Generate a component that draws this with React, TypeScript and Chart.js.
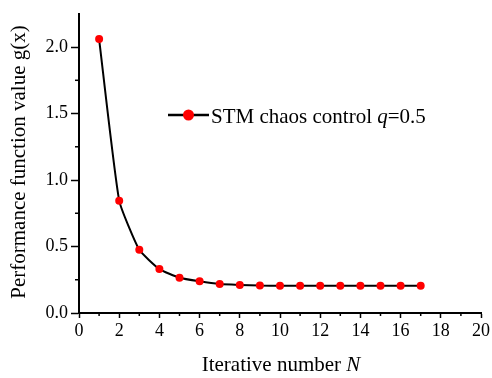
import React, { useEffect, useRef } from 'react';
import { Chart, registerables } from 'chart.js';

Chart.register(...registerables);

// ---- data ----
const iterations = [1, 2, 3, 4, 5, 6, 7, 8, 9, 10, 11, 12, 13, 14, 15, 16, 17];
const gValues = [2.06, 0.845, 0.475, 0.33, 0.265, 0.238, 0.218, 0.211, 0.206, 0.205, 0.205, 0.205, 0.205, 0.205, 0.205, 0.205, 0.205];
const yMajorTicks = [0, 0.5, 1.0, 1.5, 2.0];
const xMinorTicks = [1, 3, 5, 7, 9, 11, 13, 15, 17, 19];
const yMinorTicks = [0.25, 0.75, 1.25, 1.75];
const seriesLabel = [
  { text: 'STM chaos control ', italic: false },
  { text: 'q', italic: true },
  { text: '=0.5', italic: false },
];
const xTitle = [
  { text: 'Iterative number ', italic: false },
  { text: 'N', italic: true },
];
const yTitle = [{ text: 'Performance function value g(x)', italic: false }];

const FONT = "'Liberation Serif', 'Times New Roman', serif";

type Seg = { text: string; italic: boolean };

function drawRich(ctx: CanvasRenderingContext2D, segs: Seg[], x: number, y: number, size: number, align: 'left' | 'center') {
  const fontFor = (s: Seg) => `${s.italic ? 'italic ' : ''}${size}px ${FONT}`;
  let total = 0;
  for (const s of segs) {
    ctx.font = fontFor(s);
    total += ctx.measureText(s.text).width;
  }
  let cx = align === 'center' ? x - total / 2 : x;
  ctx.textAlign = 'left';
  ctx.textBaseline = 'alphabetic';
  for (const s of segs) {
    ctx.font = fontFor(s);
    ctx.fillText(s.text, cx, y);
    cx += ctx.measureText(s.text).width;
  }
}

const decorations = {
  id: 'decorations',
  afterDraw(chart: any) {
    const ctx: CanvasRenderingContext2D = chart.ctx;
    const area = chart.chartArea;
    const xs = chart.scales.x;
    const ys = chart.scales.y;
    ctx.save();
    ctx.strokeStyle = '#000';
    ctx.lineWidth = 1.5;
    for (const v of xMinorTicks) {
      const px = xs.getPixelForValue(v);
      ctx.beginPath();
      ctx.moveTo(px, area.bottom);
      ctx.lineTo(px, area.bottom + 3);
      ctx.stroke();
    }
    for (const v of yMinorTicks) {
      const py = ys.getPixelForValue(v);
      ctx.beginPath();
      ctx.moveTo(area.left, py);
      ctx.lineTo(area.left - 4, py);
      ctx.stroke();
    }
    // legend
    ctx.lineWidth = 2.5;
    ctx.beginPath();
    ctx.moveTo(168, 115);
    ctx.lineTo(209, 115);
    ctx.stroke();
    ctx.fillStyle = '#ff0000';
    ctx.beginPath();
    ctx.arc(188.5, 115, 5.5, 0, Math.PI * 2);
    ctx.fill();
    ctx.fillStyle = '#000';
    drawRich(ctx, seriesLabel, 211, 123, 21, 'left');
    // axis titles
    drawRich(ctx, xTitle, 281, 371, 21, 'center');
    ctx.translate(25, 162);
    ctx.rotate(-Math.PI / 2);
    drawRich(ctx, yTitle, 0, 0, 21, 'center');
    ctx.restore();
  },
};

export default function App() {
  const ref = useRef<HTMLCanvasElement | null>(null);
  useEffect(() => {
    if (!ref.current) return;
    const chart = new Chart(ref.current, {
      type: 'line',
      data: {
        datasets: [
          {
            label: 'STM chaos control q=0.5',
            data: iterations.map((n, i) => ({ x: n, y: gValues[i] })),
            borderColor: '#000',
            borderWidth: 2,
            pointBackgroundColor: '#ff0000',
            pointBorderColor: '#ff0000',
            pointRadius: 4,
            pointBorderWidth: 0,
            tension: 0.15,
          },
        ],
      },
      options: {
        animation: false,
        responsive: false,
        layout: { padding: { top: 8, right: 9, left: 0, bottom: 0 } },
        plugins: { legend: { display: false }, tooltip: { enabled: false } },
        scales: {
          x: {
            type: 'linear',
            min: 0,
            max: 20,
            ticks: { stepSize: 2, color: '#000', font: { family: FONT, size: 18 }, padding: 2, maxRotation: 0 },
            grid: { drawOnChartArea: false, tickLength: 5, tickColor: '#000', tickWidth: 1.5 },
            border: { display: true, color: '#000', width: 2 },
            afterFit: (s: any) => { s.height = 65; },
          },
          y: {
            min: 0,
            max: 2.25,
            afterBuildTicks: (s: any) => { s.ticks = yMajorTicks.map((v) => ({ value: v })); },
            ticks: { color: '#000', font: { family: FONT, size: 18 }, padding: 3, callback: (v: any) => Number(v).toFixed(1) },
            grid: { drawOnChartArea: false, tickLength: 8, tickColor: '#000', tickWidth: 1.5 },
            border: { display: true, color: '#000', width: 2 },
            afterFit: (s: any) => { s.width = 79; },
          },
        },
      },
      plugins: [decorations],
    } as any);
    return () => chart.destroy();
  }, []);
  return (
    <div style={{ position: 'fixed', left: 0, top: 0, width: 492, height: 378, background: '#fff' }}>
      <canvas ref={ref} width={492} height={378} />
    </div>
  );
}
